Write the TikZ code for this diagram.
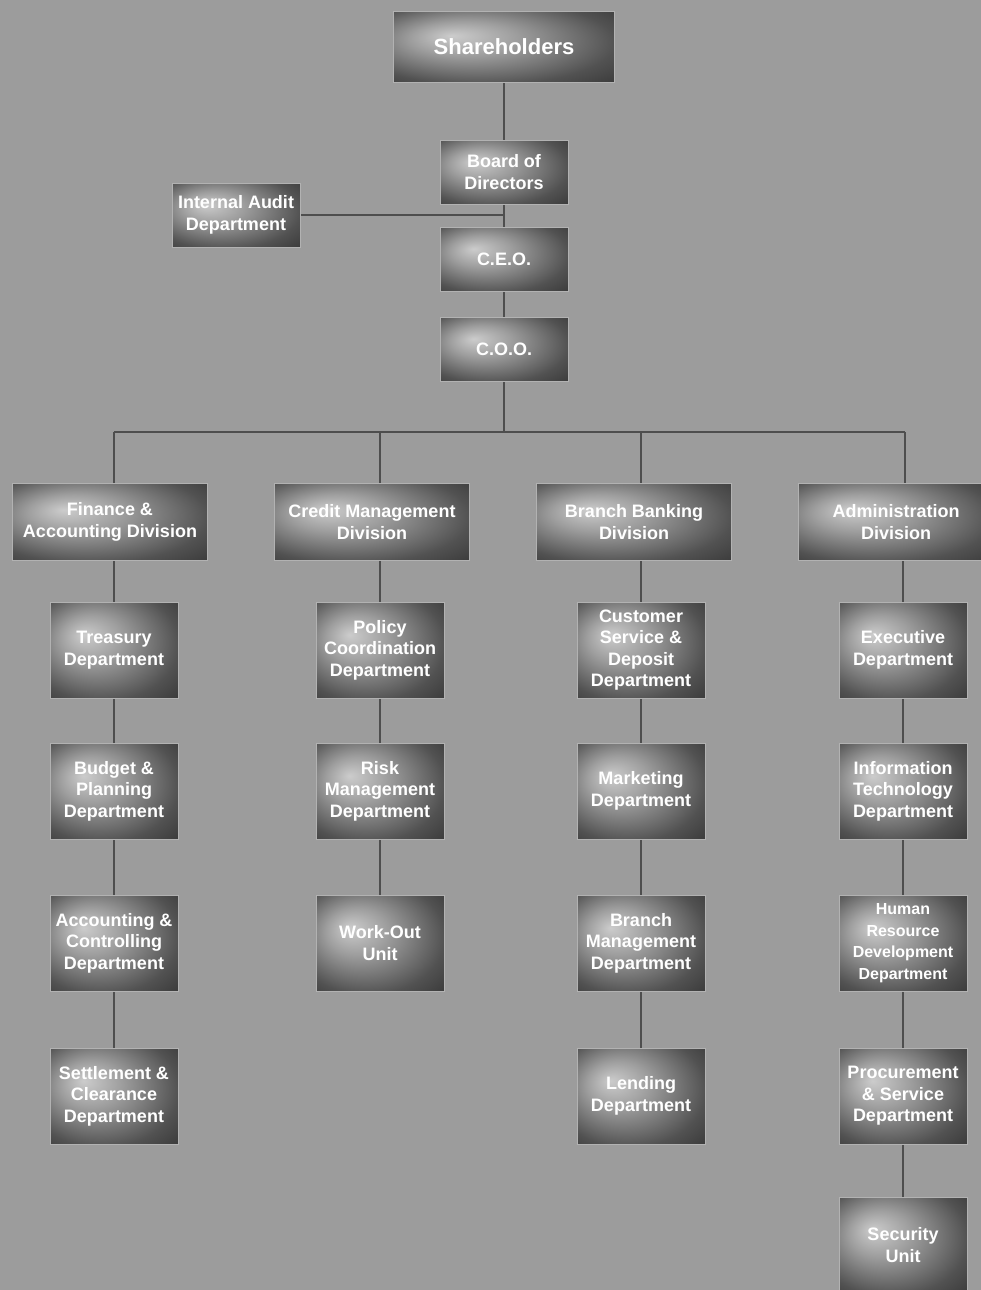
\documentclass[tikz,border=0pt]{standalone}
\usepackage{fontspec}
\usetikzlibrary{backgrounds}
\newfontfamily\cond{Liberation Sans}
\definecolor{bggray}{RGB}{156,156,156}
\definecolor{linegray}{RGB}{78,78,78}
\pgfdeclareradialshading{metal}{\pgfpoint{-12bp}{8bp}}{color(0bp)=(black!20); color(12bp)=(black!38); color(30bp)=(black!68); color(50bp)=(black!88)}
\tikzset{
  box/.style={shade, shading=metal, draw=black!30, line width=0.8pt, inner sep=0pt, align=center, text=white,
    font=\cond\bfseries\fontsize{18}{21.5}\selectfont},
  small/.style={box, minimum width=128pt, minimum height=64pt},
  div/.style={box, minimum width=195pt, minimum height=77pt},
  dept/.style={box, minimum width=128pt, minimum height=96pt},
  conn/.style={draw=linegray, line width=1.3pt}
}
\begin{document}
\begin{tikzpicture}[x=1pt,y=-1pt]
\useasboundingbox (0,0) rectangle (981,1290);
\clip (0,0) rectangle (981,1290);
% top
\node[box, minimum width=221pt, minimum height=71pt, font=\cond\bfseries\fontsize{22}{26}\selectfont] (sh) at (504,47) {Shareholders};
\node[small] (bod) at (504,172) {Board of\\Directors};
\node[small] (ia) at (236,215) {Internal Audit\\Department};
\node[small] (ceo) at (504,259) {C.E.O.};
\node[small] (coo) at (504,349) {C.O.O.};
\coordinate (bus) at (504,432);
\coordinate (c1) at (114,432);
\coordinate (c2) at (380,432);
\coordinate (c3) at (641,432);
\coordinate (c4) at (905,432);
% divisions
\node[div] (fin) at (110,522) {Finance \&\\Accounting Division};
\node[div] (cre) at (372,522) {Credit Management\\Division};
\node[div] (bra) at (634,522) {Branch Banking\\Division};
\node[div] (adm) at (896,522) {Administration\\Division};
% column 1
\node[dept] (f1) at (114,650) {Treasury\\Department};
\node[dept] (f2) at (114,791) {Budget \&\\Planning\\Department};
\node[dept] (f3) at (114,943) {Accounting \&\\Controlling\\Department};
\node[dept] (f4) at (114,1096) {Settlement \&\\Clearance\\Department};
% column 2
\node[dept] (r1) at (380,650) {Policy\\Coordination\\Department};
\node[dept] (r2) at (380,791) {Risk\\Management\\Department};
\node[dept] (r3) at (380,943) {Work-Out\\Unit};
% column 3
\node[dept] (b1) at (641,650) {Customer\\Service \&\\Deposit\\Department};
\node[dept] (b2) at (641,791) {Marketing\\Department};
\node[dept] (b3) at (641,943) {Branch\\Management\\Department};
\node[dept] (b4) at (641,1096) {Lending\\Department};
% column 4
\node[dept] (a1) at (903,650) {Executive\\Department};
\node[dept] (a2) at (903,791) {Information\\Technology\\Department};
\node[dept, font=\cond\bfseries\fontsize{16}{21.5}\selectfont] (a3) at (903,943) {Human\\Resource\\Development\\Department};
\node[dept] (a4) at (903,1096) {Procurement\\\& Service\\Department};
\node[dept] (a5) at (903,1245) {Security\\Unit};
\begin{pgfonlayer}{background}
\fill[bggray] (0,0) rectangle (981,1290);
\draw[conn] (sh.south) -- (bod.north);
\draw[conn] (bod.south) -- (ceo.north);
\draw[conn] (ceo.south) -- (coo.north);
\draw[conn] (coo.south) -- (bus);
\draw[conn] (ia.east) -- (ia.east -| ceo.north);
\draw[conn] (c1) -- (c4);
\draw[conn] (c1) -- (c1 |- fin.north);
\draw[conn] (c2) -- (c2 |- cre.north);
\draw[conn] (c3) -- (c3 |- bra.north);
\draw[conn] (c4) -- (c4 |- adm.north);
\draw[conn] (fin.south -| f1.north) -- (f4.north);
\draw[conn] (cre.south -| r1.north) -- (r3.north);
\draw[conn] (bra.south -| b1.north) -- (b4.north);
\draw[conn] (adm.south -| a1.north) -- (a5.north);
\end{pgfonlayer}
\end{tikzpicture}
\end{document}
